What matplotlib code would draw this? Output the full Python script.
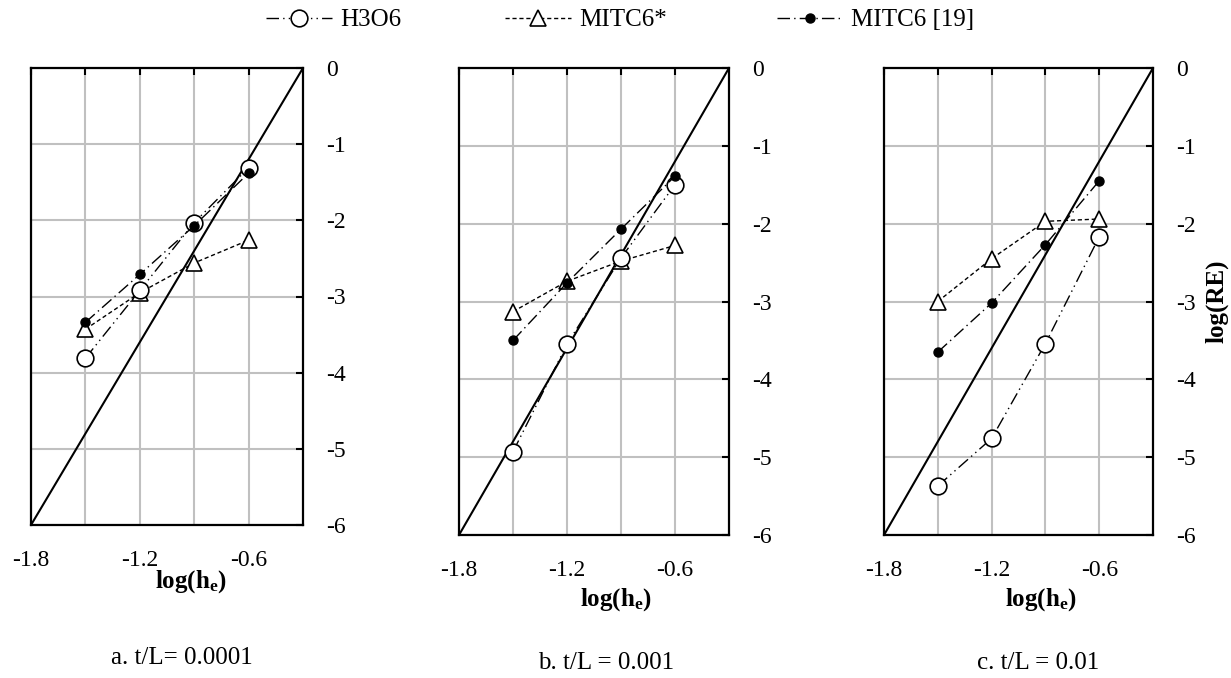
import matplotlib
matplotlib.use("Agg")
import matplotlib.pyplot as plt
from matplotlib.lines import Line2D

plt.rcParams['font.family'] = ['Liberation Serif', 'DejaVu Serif']
plt.rcParams['mathtext.fontset'] = 'custom'
plt.rcParams['mathtext.rm'] = 'Liberation Serif'
plt.rcParams['mathtext.bf'] = 'Liberation Serif:bold'
plt.rcParams['axes.unicode_minus'] = False

# log of element size
log_h = [-1.5, -1.2, -0.9, -0.6]

# log of relative error, one list per element and thickness ratio
h3o6_a = [-3.81, -2.92, -2.03, -1.31]
mitc6s_a = [-3.43, -2.95, -2.56, -2.26]
mitc6_a = [-3.34, -2.71, -2.07, -1.38]

h3o6_b = [-4.93, -3.55, -2.44, -1.50]
mitc6s_b = [-3.13, -2.74, -2.48, -2.28]
mitc6_b = [-3.50, -2.76, -2.07, -1.39]

h3o6_c = [-5.37, -4.76, -3.54, -2.17]
mitc6s_c = [-3.00, -2.45, -1.97, -1.94]
mitc6_c = [-3.65, -3.02, -2.27, -1.45]

# reference slope line
ref_x = [-1.8, -0.3]
ref_y = [-6.0, 0.0]

captions = ["a. t/L= 0.0001", "b. t/L = 0.001", "c. t/L = 0.01"]
x_ticks = [-1.8, -1.5, -1.2, -0.9, -0.6]
x_ticklabels = ["-1.8", "", "-1.2", "", "-0.6"]
y_ticks = [0, -1, -2, -3, -4, -5, -6]
y_ticklabels = ["0", "-1", "-2", "-3", "-4", "-5", "-6"]

W, H = 1231, 678
fig = plt.figure(figsize=(W / 100, H / 100), dpi=100)

# panel boxes in pixels: left, right, top, bottom
boxes = [(31, 303, 68, 525), (459, 729, 68, 535), (884, 1153, 68, 535)]
data = [(h3o6_a, mitc6s_a, mitc6_a), (h3o6_b, mitc6s_b, mitc6_b), (h3o6_c, mitc6s_c, mitc6_c)]
xlabel_pos = [(191, 582), (616, 600), (1041, 600)]
cap_pos = [(182, 658), (606, 663), (1038, 663)]

st_h3o6 = dict(color='black', lw=1.0, ls=(0, (9, 3, 1, 3, 1, 3)), marker='o',
               ms=12, mfc='white', mec='black', mew=1.2)
st_mitc6s = dict(color='black', lw=1.0, ls=(0, (3, 2)), marker='^',
                 ms=12, mfc='white', mec='black', mew=1.2)
st_mitc6 = dict(color='black', lw=1.0, ls=(0, (9, 3, 1, 3)), marker='o',
                ms=6.5, mfc='black', mec='black')

for i, ((l, r, t, b), (h, ms_, m), cap) in enumerate(zip(boxes, data, captions)):
    ax = fig.add_axes([l / W, 1 - b / H, (r - l) / W, (b - t) / H])
    ax.set_xlim(-1.8, -0.3)
    ax.set_ylim(-6, 0)
    ax.set_xticks(x_ticks)
    ax.set_xticklabels(x_ticklabels)
    ax.set_yticks(y_ticks)
    ax.set_yticklabels(y_ticklabels)
    ax.grid(True, color='#c0c0c0', lw=1.5, zorder=0)
    ax.set_axisbelow(True)
    ax.tick_params(axis='x', which='both', direction='in', top=True, bottom=False,
                   labelbottom=True, labelsize=17, length=5, width=1.5, pad=18)
    ax.tick_params(axis='y', which='both', direction='in', left=False, right=True,
                   labelleft=False, labelright=True, labelsize=17, length=5,
                   width=1.5, pad=17)
    for sp in ax.spines.values():
        sp.set_linewidth(1.6)

    ax.plot(ref_x, ref_y, color='black', lw=1.5, zorder=2)
    ax.plot(log_h, ms_, **st_mitc6s, zorder=3)
    ax.plot(log_h, m, **st_mitc6, zorder=4)
    ax.plot(log_h, h, **st_h3o6, zorder=3)

    ax.set_xlabel(r'$\mathbf{log(h_e)}$', fontsize=18)
    lx, ly = xlabel_pos[i]
    ax.xaxis.set_label_coords((lx - l) / (r - l), (b - ly) / (b - t))
    ax.xaxis.label.set_verticalalignment('center')
    if i == 2:
        ax.yaxis.set_label_position('right')
        ax.set_ylabel('log(RE)', fontsize=18, fontweight='bold', rotation=90,
                      labelpad=6)
    fig.text(cap_pos[i][0] / W, 1 - cap_pos[i][1] / H, cap, ha='center',
             va='center', fontsize=18)

# legend entries across the top
entries = [
    (Line2D([], [], **st_h3o6), "H3O6", 266),
    (Line2D([], [], **st_mitc6s), "MITC6*", 505),
    (Line2D([], [], **st_mitc6), "MITC6 [19]", 777),
]
for handle, label, xpix in entries:
    fig.legend([handle], [label], loc='center left',
               bbox_to_anchor=(xpix / W, 1 - 20 / H),
               frameon=False, fontsize=18, handlelength=2.65, handletextpad=0.3,
               borderpad=0, borderaxespad=0)

fig.savefig("out.png", dpi=100)
